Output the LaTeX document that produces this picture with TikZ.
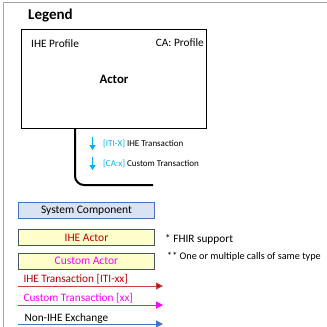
\documentclass[tikz,border=0pt]{standalone}
\usepackage{fontspec}
\setmainfont{Carlito}
\usepackage{xcolor}
\usetikzlibrary{positioning, calc, arrows.meta}

\definecolor{frameGray}{HTML}{A6A6A6}
\definecolor{sysFill}{HTML}{DAE3F3}
\definecolor{sysDraw}{HTML}{4472C4}
\definecolor{actFill}{HTML}{FFFFCC}
\definecolor{actDraw}{HTML}{44546A}
\definecolor{iheRed}{HTML}{C00000}
\definecolor{iheLine}{HTML}{C84040}
\definecolor{caMag}{HTML}{FF00FF}
\definecolor{tickCyan}{HTML}{00B0F0}

\begin{document}
\begin{tikzpicture}[
            x=1pt, y=-1pt,
            txt/.style={font=\fontsize{11.3}{13}\selectfont, inner sep=0pt},
            small/.style={font=\fontsize{9}{11}\selectfont, inner sep=0pt},
            legbox/.style={rectangle, draw, line width=0.9pt, minimum width=136pt, minimum height=16pt, inner sep=0pt, font=\fontsize{11.5}{13}\selectfont},
            tick/.style={tickCyan, line width=1.2pt, -{Triangle[length=5pt, width=6pt]}},
            legarrow/.style={line width=1pt, -{Triangle[length=7pt, width=7pt]}}
        ]
        \useasboundingbox (0,0) rectangle (327,327);
        \draw[frameGray, line width=1pt] (3.5,327) -- (3.5,2.5) -- (327,2.5);

        \node[anchor=west, inner sep=0pt, font=\fontsize{15}{17}\selectfont\bfseries] (title) at (28,16) {Legend};

        % Actor box
        \node[draw, line width=1pt, minimum width=185pt, minimum height=99pt, anchor=north west,
              font=\fontsize{12.8}{15}\selectfont\bfseries] (actor) at (21,29) {Actor};
        \node[txt, anchor=west] (profile) at ($(actor.north west)+(10,15)$) {IHE Profile};
        \node[txt, anchor=east] (caprofile) at ($(actor.north east)+(-3,14)$) {CA: Profile};

        % Transactions of the actor
        \coordinate (bend) at (153,185);
        \draw[line width=2pt, rounded corners=9pt] ($(actor.south west)+(54,0)$) |- (bend);
        \node[small, anchor=west] (iti) at (103,144) {\textcolor{tickCyan}{[ITI-X]} IHE Transaction};
        \node[small, anchor=west] (cax) at (103,164) {\textcolor{tickCyan}{[CA:x]} Custom Transaction};
        \draw[tick] ($(iti.west)+(-10.5,-7)$) -- ++(0,13);
        \draw[tick] ($(cax.west)+(-10.5,-7)$) -- ++(0,13);

        % Component and actor kinds
        \node[legbox, draw=sysDraw, fill=sysFill, anchor=north west] (sys) at (18,202) {System Component};
        \node[legbox, draw=actDraw, fill=actFill, text=iheRed, below=10pt of sys] (iheact) {IHE Actor};
        \node[legbox, draw=actDraw, fill=actFill, text=caMag, below=7pt of iheact] (caact) {Custom Actor};
        \node[txt, anchor=west] (fhir) at (165,239) {* FHIR support};
        \node[txt, anchor=west, font=\fontsize{10.2}{12}\selectfont] (multi) at (167,257) {** One or multiple calls of same type};

        % Exchange kinds
        \coordinate (redA) at (18,286);   \coordinate (redB) at (163,286);
        \coordinate (magA) at (18,305);   \coordinate (magB) at (163,305);
        \coordinate (bluA) at (18,324);   \coordinate (bluB) at (163,324);
        \draw[legarrow, iheLine, -{Triangle[length=7pt, width=7pt, fill=iheRed]}] (redA) -- node[txt, text=iheRed, pos=0, anchor=base west, xshift=5pt, yshift=4pt] (ihetr) {IHE Transaction [ITI-xx]} (redB);
        \draw[legarrow, caMag] (magA) -- node[txt, pos=0, anchor=base west, xshift=5pt, yshift=4pt] (catr) {Custom Transaction [xx]} (magB);
        \draw[legarrow, sysDraw] (bluA) -- node[txt, text=black, pos=0, anchor=base west, xshift=6pt, yshift=2.5pt] (nonihe) {Non-IHE Exchange} (bluB);

    \end{tikzpicture}
\end{document}
